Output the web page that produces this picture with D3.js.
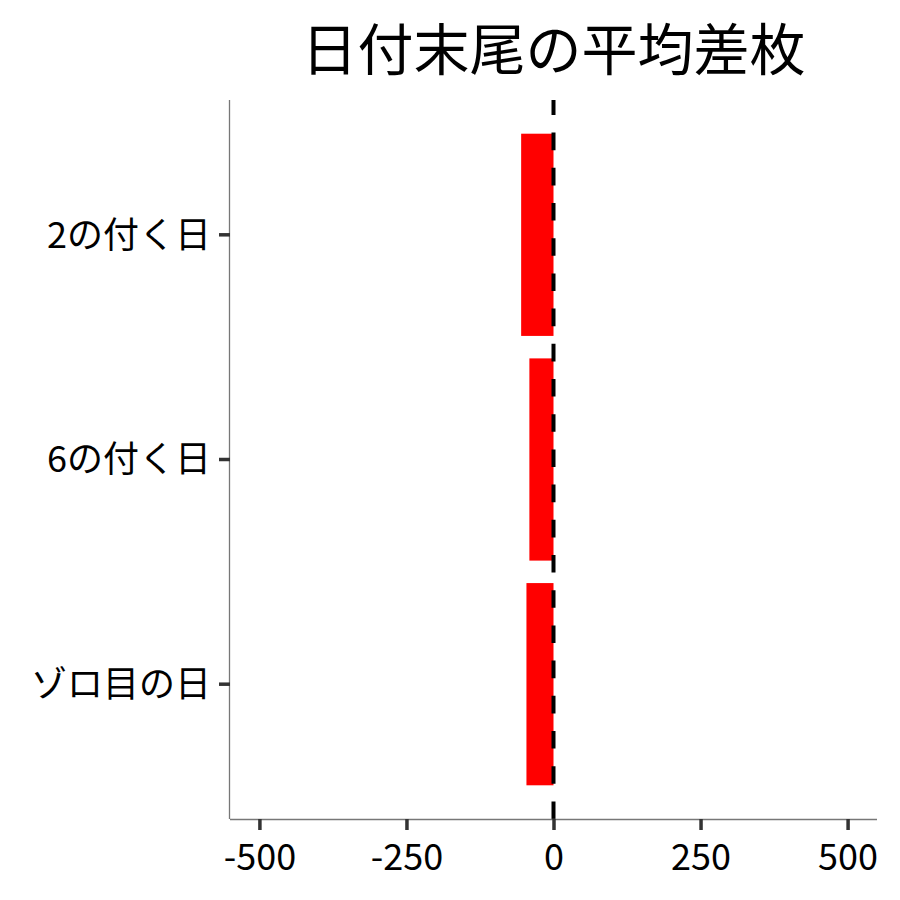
<!DOCTYPE html>
<html>
<head>
<meta charset="utf-8">
<script src="https://cdn.jsdelivr.net/npm/d3@7"></script>
<style>
  body { margin: 0; background: #fff; }
  svg text { font-family: "Noto Sans CJK JP", "Noto Sans", sans-serif; }
</style>
</head>
<body>
<div id="chart"></div>
<script>
const categories = ["2の付く日", "6の付く日", "ゾロ目の日"];
const values = [-55, -41, -46];
const xTicks = [-500, -250, 0, 250, 500];
const title = "日付末尾の平均差枚";

const width = 900, height = 900;
const margin = { top: 100, right: 23, bottom: 81, left: 230 };
const innerW = width - margin.left - margin.right;
const innerH = height - margin.top - margin.bottom;

const svg = d3.select("#chart").append("svg")
  .attr("width", width)
  .attr("height", height);

const g = svg.append("g")
  .attr("transform", `translate(${margin.left},${margin.top})`);

const x = d3.scaleLinear().domain([-550, 550]).range([0, innerW]);

// discrete scale with ggplot-like 0.6 expansion, bar width 0.9
const y = d3.scaleBand()
  .domain(categories)
  .range([0, innerH])
  .paddingInner(0.1)
  .paddingOuter(0.15);

g.selectAll(".bar")
  .data(values)
  .enter()
  .append("rect")
  .attr("x", d => x(Math.min(0, d)))
  .attr("y", (_, i) => y(categories[i]))
  .attr("width", d => Math.abs(x(d) - x(0)))
  .attr("height", y.bandwidth())
  .attr("fill", "#ff0000");

// dashed zero line, drawn bottom to top
g.append("line")
  .attr("x1", x(0)).attr("x2", x(0))
  .attr("y1", innerH).attr("y2", 0)
  .attr("stroke", "#000")
  .attr("stroke-width", 4)
  .attr("stroke-dasharray", "17.6,17.6");

// axes
const xAxis = g.append("g")
  .attr("transform", `translate(0,${innerH})`)
  .call(d3.axisBottom(x).tickValues(xTicks).tickSize(11).tickPadding(8).tickFormat(d => String(d)));

const yAxis = g.append("g")
  .call(d3.axisLeft(y).tickSize(11).tickPadding(8));

[xAxis, yAxis].forEach(ax => {
  ax.select(".domain").attr("stroke", "#777").attr("stroke-width", 1.3);
  ax.selectAll(".tick line").attr("stroke", "#333").attr("stroke-width", 3.5);
  ax.selectAll(".tick text")
    .attr("fill", "#000")
    .style("font-size", "36px")
    .style("font-family", "\"Noto Sans CJK JP\", sans-serif");
});
xAxis.select(".domain").attr("d", `M0,0.5H${innerW}`);
yAxis.select(".domain").attr("d", `M-0.5,0V${innerH}`);
yAxis.selectAll(".tick text").attr("dy", "0.36em");
xAxis.selectAll(".tick text").attr("dy", "0.9em");

svg.append("text")
  .attr("x", margin.left + innerW / 2)
  .attr("y", 70)
  .attr("text-anchor", "middle")
  .style("font-size", "56px")
  .attr("fill", "#000")
  .text(title);
</script>
</body>
</html>
